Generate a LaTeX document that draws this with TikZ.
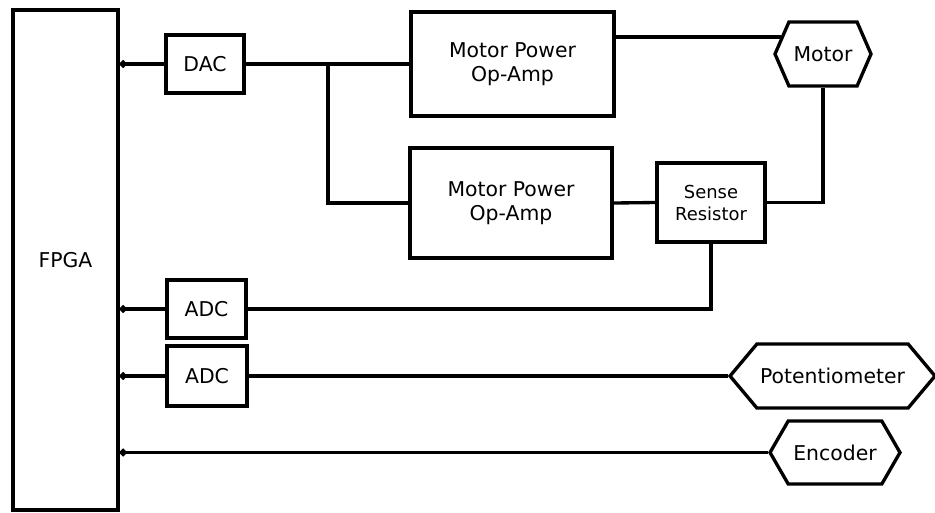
\documentclass[tikz,border=0pt]{standalone}
\usepackage{fontspec}
\setmainfont{DejaVu Sans}
\usetikzlibrary{shapes,shapes.symbols,arrows.meta,positioning}

\begin{document}
\begin{tikzpicture}[x=0.02cm, y=-0.02cm,
        blk/.style ={draw, line width=1.9pt, align=center, font=\fontsize{11.6}{14}\selectfont,
                     inner sep=0pt},
        hexa/.style={draw, line width=1.9pt, signal, signal to=east and west, inner sep=0pt,
                     font=\fontsize{11.6}{14}\selectfont},
        wire/.style={line width=1.9pt},
        tap/.style ={wire, {Circle[length=4pt]}-},
    ]
        \useasboundingbox (0,0) rectangle (935,512);

        % FPGA and converters
        \node[blk, minimum width=2.1cm, minimum height=10cm] (fpga) at (65.5,260) {FPGA};
        \node[blk, minimum width=1.56cm, minimum height=1.16cm] (dac)  at (205,64)  {DAC};
        \node[blk, minimum width=1.58cm, minimum height=1.16cm] (adcI) at (206.5,309) {ADC};
        \node[blk, minimum width=1.6cm,  minimum height=1.2cm]  (adcV) at (207,376) {ADC};

        % Power stage
        \node[blk, minimum width=4.06cm, minimum height=2.08cm] (ampA) at (512.5,64) {Motor Power\\Op-Amp};
        \node[blk, minimum width=4.04cm, minimum height=2.2cm]  (ampB) at (511,203)  {Motor Power\\Op-Amp};
        \node[blk, minimum width=2.16cm, minimum height=1.58cm,
              font=\fontsize{10.2}{12.5}\selectfont] (sense) at (711,202.5) {Sense\\Resistor};

        % External parts
        \node[hexa, signal pointer angle=133, minimum width=1.92cm, minimum height=1.28cm] (motor) at (823,54) {Motor};
        \node[hexa, signal pointer angle=100, minimum width=4.1cm,  minimum height=1.28cm] (pot)   at (832.5,376) {Potentiometer};
        \node[hexa, signal pointer angle=120, minimum width=2.6cm,  minimum height=1.26cm] (enc)   at (835,452.5) {Encoder};

        \coordinate (split) at (328,64);

        % Drive path
        \draw[tap]  (fpga.east |- dac) -- (dac);
        \draw[wire] (dac.east) -- (ampA.west);
        \draw[wire] (split) |- (ampB.west);
        \draw[wire] (ampA.east |- motor.158) -- (motor.158);
        \draw[wire] (ampB.east) -- (sense.west);
        \draw[wire] (motor.south) |- (sense.east);

        % Feedback path
        \draw[wire] (sense.south) |- (adcI.east);
        \draw[tap]  (fpga.east |- adcI) -- (adcI);
        \draw[tap]  (fpga.east |- adcV) -- (adcV);
        \draw[wire] (adcV.east) -- (pot.west);
        \draw[tap]  (fpga.east |- enc.west) -- (enc.west);
    \end{tikzpicture}
\end{document}
